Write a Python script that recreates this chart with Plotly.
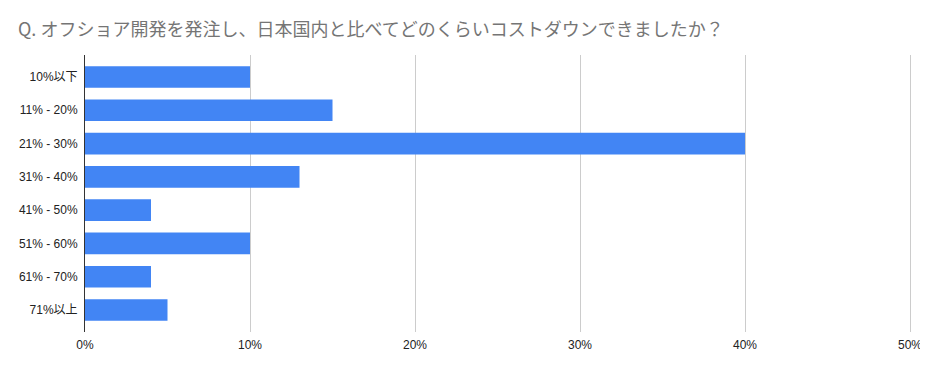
import plotly.graph_objects as go

categories = ["10%以下", "11% - 20%", "21% - 30%", "31% - 40%", "41% - 50%", "51% - 60%", "61% - 70%", "71%以上"]
values = [10, 15, 40, 13, 4, 10, 4, 5]
tick_vals = [0, 10, 20, 30, 40, 50]
tick_text = ["0%", "10%", "20%", "30%", "40%", "50%"]

fig = go.Figure(go.Bar(
    x=values, y=categories, orientation="h",
    marker=dict(color="#4285F4", line=dict(width=0)),
    hoverinfo="skip",
))

# page body has an 8px margin, so the figure is sized/offset to fit the 928x371 window
fig.update_layout(
    width=920, height=355,
    margin=dict(l=77, r=16, t=47, b=31, autoexpand=False),
    paper_bgcolor="white", plot_bgcolor="white",
    bargap=0.35,
    showlegend=False,
    title=dict(
        text="Q. オフショア開発を発注し、日本国内と比べてどのくらいコストダウンできましたか？",
        x=0, xref="container", xanchor="left", y=1, yref="container", yanchor="top",
        pad=dict(l=10, t=15),
        font=dict(family="Noto Sans CJK JP, Roboto, sans-serif", size=18, color="#757575"),
    ),
    font=dict(family="Liberation Sans, Arial, Noto Sans CJK JP, sans-serif", size=12, color="#222222"),
)

fig.update_xaxes(
    range=[0, 50.12], tickvals=tick_vals, ticktext=tick_text,
    showgrid=True, gridcolor="#cccccc", gridwidth=1,
    zeroline=False, showline=False, ticks="", ticklen=0,
    automargin=False, ticklabelstandoff=4, ticklabeloverflow="allow",
    tickfont=dict(size=12, color="#222222"),
)
fig.update_yaxes(
    categoryorder="array", categoryarray=categories,
    range=[7.66, -0.66],
    showgrid=False, zeroline=False,
    showline=True, linecolor="#333333", linewidth=1,
    ticks="", ticklabelstandoff=4,
    automargin=False,
    tickfont=dict(size=12, color="#222222"),
)

fig.write_html("out.html")
